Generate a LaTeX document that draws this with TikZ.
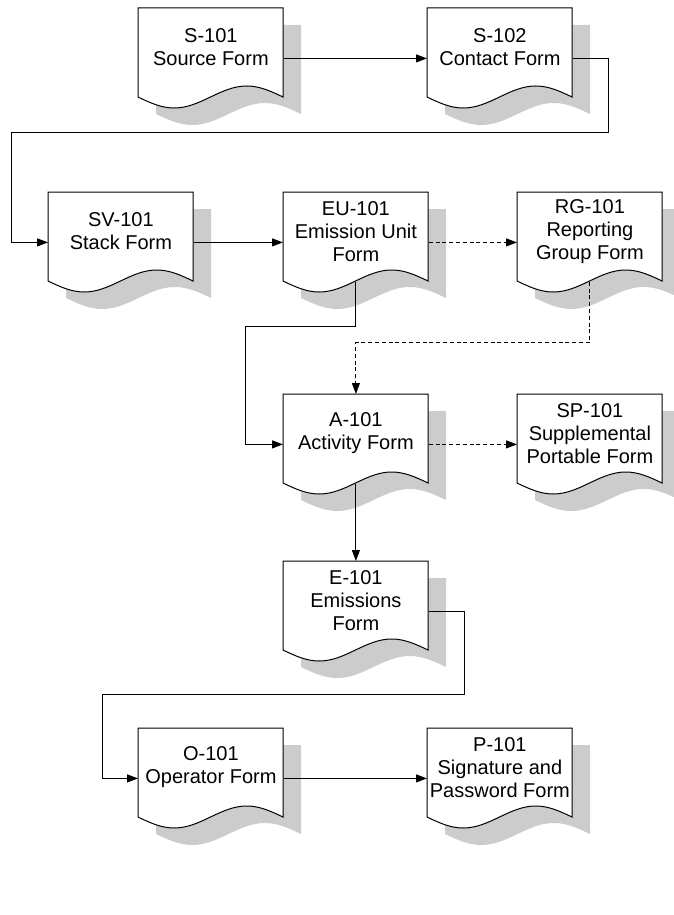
\documentclass[tikz,border=0pt]{standalone}
\usepackage{fontspec}
\setmainfont{Liberation Sans}
\usetikzlibrary{arrows.meta,backgrounds}

\definecolor{shadowgray}{RGB}{204,204,204}

\begin{document}
\begin{tikzpicture}[x=0.5pt,y=-0.5pt]
	\tikzset{form/.style={anchor=north west,minimum width=72.5pt,minimum height=39pt,inner sep=0pt,align=center,font=\fontsize{10}{11.5}\selectfont}}
	\tikzset{flow/.style={-{Triangle[length=5.5pt,width=4pt]},line width=0.5pt}}
	\tikzset{optflow/.style={flow,dash pattern=on 2pt off 1.4pt}}
	\tikzset{docshadow/.style={fill=shadowgray}}
	\tikzset{docpaper/.style={fill=white,draw=black,line width=0.5pt}}

	\useasboundingbox (0,0) rectangle (674,915);

	    \node[form] (s101) at (138,8) {S-101\\Source Form};
	    \node[form] (s102) at (427,8) {S-102\\Contact Form};
	    \node[form] (sv101) at (48,192) {SV-101\\Stack Form};
	    \node[form] (eu101) at (283,192) {EU-101\\Emission Unit\\Form};
	    \node[form] (rg101) at (517,192) {RG-101\\Reporting\\Group Form};
	    \node[form] (a101) at (283,394) {A-101\\Activity Form};
	    \node[form] (sp101) at (517,394) {SP-101\\Supplemental\\Portable Form};
	    \node[form] (e101) at (283,561) {E-101\\Emissions\\Form};
	    \node[form] (o101) at (138,728) {O-101\\Operator Form};
	    \node[form] (p101) at (427,728) {P-101\\Signature and\\Password Form};

		\begin{scope}[on background layer]
			\foreach \f in {s101,s102,sv101,eu101,rg101,a101,sp101,e101,o101,p101}{
				\fill[docshadow] (\f.north west) ++(18,17) -- ++(145,0) -- ++(0,89)
					sin ++(-36.25,-11) cos ++(-36.25,11) sin ++(-36.25,11) cos ++(-36.25,-11) -- cycle;
				\filldraw[docpaper] (\f.north west) -- ++(145,0) -- ++(0,89)
					sin ++(-36.25,-11) cos ++(-36.25,11) sin ++(-36.25,11) cos ++(-36.25,-11) -- cycle;
			}
		\end{scope}

	    \draw[flow] ([yshift=-5.5pt]s101.east) -- ([yshift=-5.5pt]s102.west);
	    \draw[flow] ([yshift=-5.5pt]s102.east) -- ++(36,0) |- (11,133) |- ([yshift=-5.5pt]sv101.west);
	    \draw[flow] ([yshift=-5.5pt]sv101.east) -- ([yshift=-5.5pt]eu101.west);
	    \draw[optflow] ([yshift=-5.5pt]eu101.east) -- ([yshift=-5.5pt]rg101.west);
	    \draw[flow] ([yshift=-5.5pt]eu101.south) -- ++(0,45) -- ++(-110.5,0) |- ([yshift=-5.5pt]a101.west);
	    \draw[optflow] ([yshift=-5.5pt]rg101.south) -- ++(0,61) -| (a101.north);
	    \draw[optflow] ([yshift=-5.5pt]a101.east) -- ([yshift=-5.5pt]sp101.west);
	    \draw[flow] ([yshift=-5.5pt]a101.south) -- (e101.north);
	    \draw[flow] ([yshift=-5.5pt]e101.east) -- ++(36,0) |- (102,694) |- ([yshift=-5.5pt]o101.west);
	    \draw[flow] ([yshift=-5.5pt]o101.east) -- ([yshift=-5.5pt]p101.west);

\end{tikzpicture}
\end{document}
